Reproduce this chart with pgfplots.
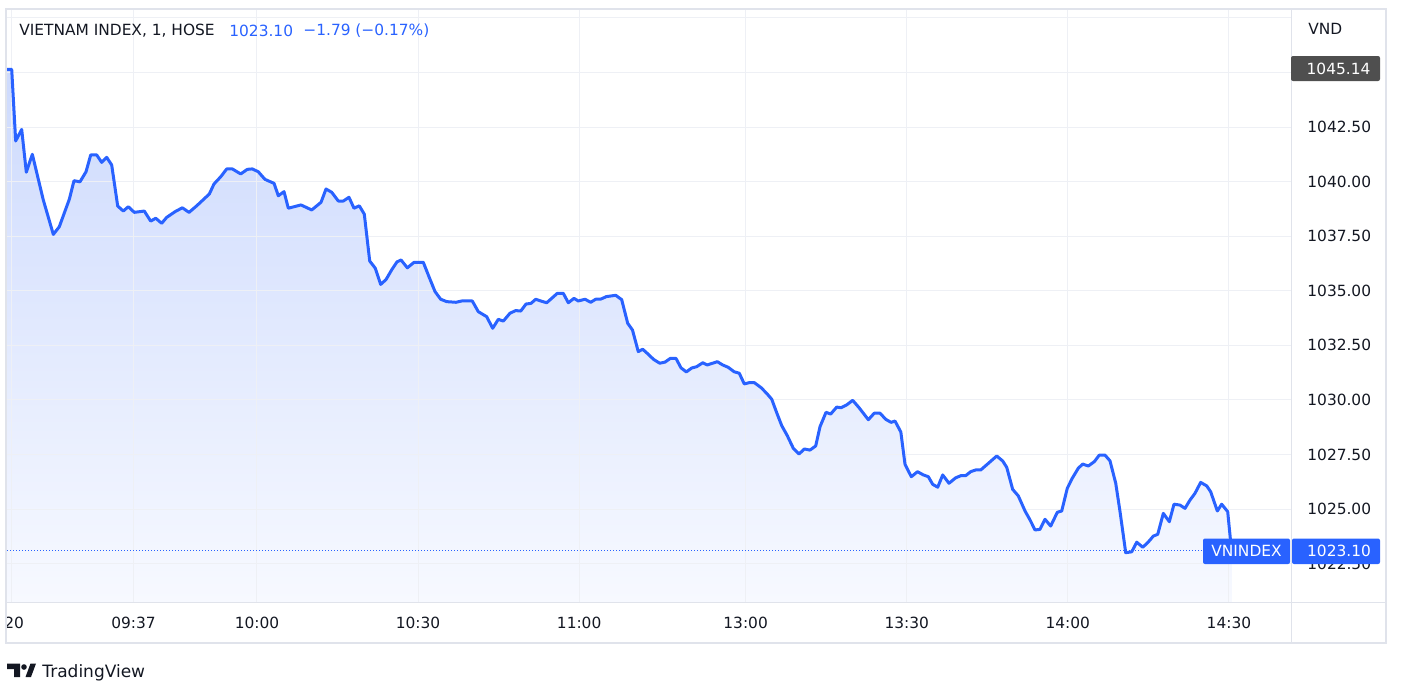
\documentclass[border=0pt]{standalone}
\usepackage{fontspec}
\setmainfont{DejaVu Sans}
\usepackage{pgfplots}
\pgfplotsset{compat=1.18}
\usepgfplotslibrary{fillbetween}
\definecolor{tvblue}{RGB}{41,98,255}
\definecolor{tvtext}{RGB}{19,23,34}
\definecolor{tvgrid}{RGB}{238,240,245}
\definecolor{tvborder}{RGB}{224,227,235}
\definecolor{filltop}{RGB}{205,218,253}
\definecolor{fillbot}{RGB}{247,249,255}
\definecolor{tvgray}{RGB}{79,79,79}
\newcommand\tvfont{\fontsize{7.7}{9}\selectfont}
\begin{document}
\begin{tikzpicture}
\begin{axis}[
  at={(3.5pt,-301pt)}, anchor=south west,
  scale only axis, width=642pt, height=296pt,
  xmin=-1.546, xmax=237.56, ymin=1020.74, ymax=1047.86,
  set layers,
  axis line style={draw=none},
  tick style={draw=none},
  xtick={-0.8,22,45,75,105,136,166,196,226},
  xticklabels={,09:37,10:00,10:30,11:00,13:00,13:30,14:00,14:30},
  ytick={1022.5,1025,1027.5,1030,1032.5,1035,1037.5,1040,1042.5,1045,1047.5},
  yticklabels={1022.50,1025.00,1027.50,1030.00,1032.50,1035.00,1037.50,1040.00,1042.50,,},
  yticklabel pos=right,
  grid=major,
  major grid style={draw=tvgrid, line width=0.5pt},
  tick label style={font=\tvfont, text=tvtext},
  xticklabel style={anchor=center, inner sep=0pt, yshift=-10.5pt},
  yticklabel style={anchor=west, inner sep=0pt, xshift=8pt},
]
\addplot[name path=price, draw=tvblue, line width=1.5pt, line join=round, line cap=round] coordinates {
(-1.49,1045.14) (-0.67,1045.14) (0.07,1041.86) (1.19,1042.39) (2.05,1040.43) (3.17,1041.25) (5.21,1039.16) (7.08,1037.58) (8.19,1037.93) (10.06,1039.19) (10.93,1040.04) (12.05,1039.99) (13.17,1040.45) (14.04,1041.22) (15.16,1041.22) (16.09,1040.88) (17.02,1041.11) (17.95,1040.76) (19.07,1038.88) (20.11,1038.65) (21.04,1038.85) (22.16,1038.59) (24.02,1038.65) (25.21,1038.19) (26.15,1038.32) (27.26,1038.09) (28.19,1038.36) (29.74,1038.62) (31.10,1038.80) (32.35,1038.59) (33.78,1038.89) (36.13,1039.43) (37.00,1039.89) (38.25,1040.22) (39.37,1040.58) (40.41,1040.58) (41.97,1040.35) (43.20,1040.56) (44.13,1040.58) (45.25,1040.45) (46.50,1040.10) (48.18,1039.92) (48.98,1039.35) (50.04,1039.54) (50.84,1038.78) (53.20,1038.93) (55.20,1038.70) (56.93,1039.05) (57.86,1039.66) (58.92,1039.51) (60.15,1039.11) (61.08,1039.11) (62.14,1039.28) (63.07,1038.78) (64.06,1038.89) (64.99,1038.51) (66.00,1036.36) (67.04,1036.03) (68.04,1035.29) (69.03,1035.51) (70.15,1035.98) (71.08,1036.32) (71.83,1036.41) (73.00,1036.05) (74.25,1036.30) (75.98,1036.30) (77.04,1035.64) (78.16,1034.96) (79.22,1034.61) (80.34,1034.50) (82.07,1034.47) (83.13,1034.53) (85.10,1034.53) (86.22,1034.04) (87.78,1033.81) (88.90,1033.28) (89.94,1033.69) (90.88,1033.61) (92.12,1033.97) (93.18,1034.09) (94.12,1034.07) (95.10,1034.39) (96.03,1034.42) (96.91,1034.61) (97.84,1034.53) (98.96,1034.45) (100.93,1034.88) (102.05,1034.88) (102.98,1034.45) (104.04,1034.65) (104.84,1034.53) (106.09,1034.61) (107.15,1034.47) (108.08,1034.61) (109.07,1034.62) (110.06,1034.73) (111.81,1034.79) (112.92,1034.59) (114.04,1033.51) (114.93,1033.20) (116.01,1032.21) (116.83,1032.32) (117.82,1032.10) (118.88,1031.85) (120.00,1031.68) (120.99,1031.73) (121.97,1031.90) (123.03,1031.90) (123.96,1031.47) (124.95,1031.28) (125.96,1031.46) (126.89,1031.52) (128.01,1031.70) (128.86,1031.60) (130.73,1031.75) (131.73,1031.60) (132.77,1031.49) (133.84,1031.29) (134.82,1031.22) (135.75,1030.73) (136.69,1030.79) (137.62,1030.79) (138.87,1030.56) (139.92,1030.30) (140.86,1030.03) (141.79,1029.41) (142.72,1028.82) (143.76,1028.36) (144.88,1027.78) (145.94,1027.52) (146.93,1027.75) (147.99,1027.70) (149.05,1027.89) (149.85,1028.77) (150.97,1029.43) (151.84,1029.35) (152.96,1029.67) (153.76,1029.64) (154.82,1029.77) (155.94,1029.98) (157.06,1029.66) (157.95,1029.38) (158.85,1029.09) (159.95,1029.39) (161.03,1029.39) (162.09,1029.11) (163.08,1028.97) (163.82,1029.03) (164.90,1028.53) (165.68,1027.05) (166.85,1026.48) (168.01,1026.71) (169.03,1026.57) (170.02,1026.48) (170.84,1026.13) (171.77,1026.00) (172.70,1026.56) (173.87,1026.18) (175.12,1026.43) (176.11,1026.53) (176.98,1026.53) (177.91,1026.71) (178.84,1026.79) (179.78,1026.79) (181.19,1027.09) (182.76,1027.43) (183.87,1027.20) (184.62,1026.91) (185.73,1025.90) (186.78,1025.60) (188.03,1024.91) (188.96,1024.50) (189.89,1024.04) (190.82,1024.07) (191.75,1024.53) (192.81,1024.22) (194.04,1024.85) (194.86,1024.91) (195.90,1025.95) (196.83,1026.41) (197.95,1026.87) (198.77,1027.06) (199.81,1026.97) (200.93,1027.17) (201.86,1027.47) (202.92,1027.47) (203.85,1027.21) (204.92,1026.18) (205.72,1024.88) (206.78,1023.00) (207.90,1023.04) (208.83,1023.48) (209.95,1023.25) (210.88,1023.46) (211.92,1023.76) (212.74,1023.84) (213.78,1024.80) (214.90,1024.42) (215.77,1025.22) (216.89,1025.18) (217.82,1025.03) (218.75,1025.41) (219.68,1025.72) (220.74,1026.22) (221.86,1026.06) (222.60,1025.79) (223.84,1024.91) (224.65,1025.22) (225.77,1024.88) (226.48,1023.10)
};
\path[name path=base] (axis cs:-1.49,1020.74) -- (axis cs:226.48,1020.74);
\addplot[draw=none, top color=filltop, bottom color=fillbot] fill between[of=price and base, on layer=axis background];
\draw[tvblue, line width=0.5pt, dash pattern=on 0.5pt off 1pt] (axis cs:-1.546,1023.10) -- (axis cs:237.56,1023.10);
\end{axis}
\begin{scope}[x=0.5pt, y=-0.5pt]
\useasboundingbox (0,0) rectangle (1402,697);
% left cut label
\node[anchor=west, inner sep=0pt, font=\tvfont, text=tvtext] at (4,623) {20};
% frame
\draw[tvborder, line width=1pt] (6,9) rectangle (1386,643);
\draw[tvborder, line width=0.5pt] (1291,9) -- (1291,643);
\draw[tvborder, line width=0.5pt] (6,602) -- (1386,602);
% title
\node[anchor=west, inner sep=0pt, font=\tvfont, text=tvtext] at (19,31) {VIETNAM INDEX, 1, HOSE};
\node[anchor=west, inner sep=0pt, font=\tvfont, text=tvblue] at (229,31) {1023.10};
\node[anchor=west, inner sep=0pt, font=\tvfont, text=tvblue] at (303,31) {−1.79 (−0.17\%)};
\node[anchor=west, inner sep=0pt, font=\tvfont, text=tvtext] at (1308,29) {VND};
% price boxes
\fill[tvgray, rounded corners=1pt] (1291,56) rectangle (1380,81);
\node[inner sep=0pt, font=\tvfont, text=white] at (1338.5,68.5) {1045.14};
\fill[tvblue, rounded corners=1pt] (1203,538.5) rectangle (1290,564);
\node[inner sep=0pt, font=\tvfont, text=white] at (1246.5,551) {VNINDEX};
\fill[tvblue, rounded corners=1pt] (1292,538.5) rectangle (1380,564);
\node[inner sep=0pt, font=\tvfont, text=white] at (1339,551) {1023.10};
% TradingView logo
\fill[tvtext] (7,663.5) -- (20,663.5) -- (20,677) -- (14,677) -- (14,669) -- (7,669) -- cycle;
\fill[tvtext] (24,667) circle (2.8);
\fill[tvtext] (25.5,677) -- (30.5,663.5) -- (36,663.5) -- (31,677) -- cycle;
\node[anchor=base west, inner sep=0pt, font=\fontsize{8.5}{10}\selectfont, text=tvtext] at (42,677) {TradingView};
\end{scope}
\end{tikzpicture}
\end{document}
